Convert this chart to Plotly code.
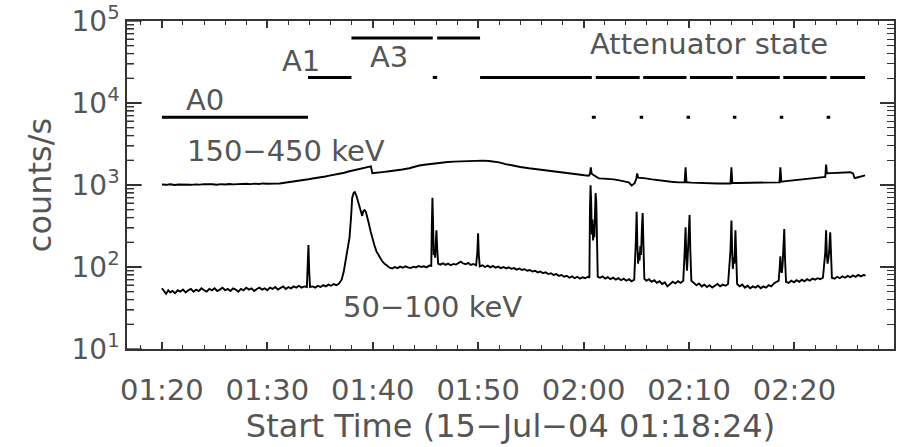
import pandas as pd
import plotly.graph_objects as go

T0 = pd.Timestamp("2004-07-15 01:20:00")

# 50-100 keV light curve: (minutes after 01:20 UT, counts/s)
low_pts = [
    (0.00, 55), (0.20, 50), (0.40, 47), (0.60, 52), (0.80, 49), (1.00, 51), (1.25, 48), (1.50, 52),
    (1.75, 50), (2.00, 53), (2.25, 49), (2.50, 52), (2.75, 54), (3.00, 50), (3.25, 53), (3.50, 51),
    (3.75, 55), (4.00, 52), (4.25, 50), (4.50, 54), (4.75, 52), (5.00, 55), (5.25, 51), (5.50, 53),
    (5.75, 56), (6.00, 52), (6.25, 54), (6.50, 51), (6.75, 55), (7.00, 53), (7.25, 50), (7.50, 54),
    (7.75, 52), (8.00, 56), (8.25, 53), (8.50, 55), (8.75, 51), (9.00, 54), (9.25, 56), (9.50, 53),
    (9.75, 55), (10.00, 52), (10.25, 56), (10.50, 54), (10.75, 57), (11.00, 53), (11.25, 56),
    (11.50, 58), (11.75, 54), (12.00, 57), (12.25, 55), (12.50, 58), (12.75, 56), (13.00, 59),
    (13.25, 56), (13.50, 58), (13.75, 57),
    (13.85, 120), (13.90, 185), (13.97, 90), (14.05, 57),
    (14.30, 58), (14.55, 56), (14.80, 59), (15.05, 57), (15.30, 60), (15.55, 58), (15.80, 61),
    (16.05, 59), (16.30, 62), (16.55, 60), (16.80, 63),
    (17.05, 70), (17.25, 88), (17.45, 125), (17.65, 180), (17.80, 230), (17.95, 420), (18.05, 700),
    (18.20, 805), (18.30, 820), (18.45, 740), (18.60, 620), (18.75, 530), (18.90, 440), (19.00, 420),
    (19.10, 480), (19.22, 495), (19.35, 470), (19.50, 405), (19.65, 330), (19.80, 270), (19.95, 225),
    (20.15, 185), (20.35, 155), (20.60, 135), (20.85, 120), (21.10, 110), (21.35, 104), (21.60, 98),
    (21.85, 96), (22.10, 100), (22.35, 97), (22.60, 101), (22.85, 98), (23.10, 102), (23.35, 99),
    (23.60, 97), (23.85, 101), (24.10, 99), (24.35, 103), (24.60, 100), (24.85, 102), (25.10, 99),
    (25.35, 104), (25.55, 103),
    (25.60, 300), (25.66, 700), (25.72, 350), (25.78, 140), (25.85, 160), (25.92, 130), (25.98, 200),
    (26.04, 280), (26.10, 180), (26.20, 110),
    (26.40, 107), (26.65, 111), (26.90, 106), (27.15, 110), (27.40, 105), (27.65, 109), (27.90, 107),
    (28.15, 112), (28.35, 116), (28.55, 111), (28.80, 108), (29.05, 112), (29.30, 106), (29.55, 109),
    (29.80, 105),
    (29.92, 150), (29.99, 258), (30.06, 140), (30.15, 102),
    (30.40, 105), (30.65, 100), (30.90, 104), (31.15, 99), (31.40, 103), (31.65, 98), (31.90, 101),
    (32.15, 97), (32.40, 100), (32.65, 96), (32.90, 99), (33.15, 95), (33.40, 97), (33.65, 93),
    (33.90, 96), (34.15, 92), (34.40, 94), (34.65, 90), (34.90, 92), (35.15, 88), (35.40, 90),
    (35.65, 86), (35.90, 88), (36.15, 84), (36.40, 86), (36.65, 82), (36.90, 84), (37.15, 80),
    (37.40, 82), (37.65, 78), (37.90, 80), (38.15, 76), (38.40, 78), (38.65, 74), (38.90, 77),
    (39.15, 73), (39.40, 76), (39.65, 72), (39.90, 75), (40.15, 73), (40.40, 76), (40.55, 74),
    (40.60, 500), (40.66, 990), (40.72, 600), (40.78, 250), (40.84, 380), (40.90, 210), (40.96, 330),
    (41.02, 230), (41.08, 450), (41.14, 800), (41.20, 620), (41.27, 90), (41.34, 76),
    (41.55, 74), (41.80, 77), (42.05, 72), (42.30, 75), (42.55, 71), (42.80, 74), (43.05, 70),
    (43.30, 73), (43.55, 69), (43.80, 72), (44.05, 68), (44.30, 71), (44.55, 67), (44.80, 70),
    (44.95, 200), (45.03, 470), (45.10, 180), (45.17, 110), (45.24, 150), (45.31, 120), (45.38, 180),
    (45.45, 140), (45.53, 300), (45.60, 455), (45.67, 200), (45.76, 72),
    (45.95, 68), (46.20, 71), (46.45, 66), (46.70, 69), (46.95, 64), (47.20, 67), (47.45, 62),
    (47.70, 65), (47.95, 58), (48.20, 62), (48.45, 66), (48.70, 63), (48.95, 67), (49.20, 64),
    (49.45, 68),
    (49.58, 150), (49.67, 305), (49.74, 130), (49.81, 90), (49.88, 140), (49.95, 250), (50.05, 430),
    (50.12, 160), (50.22, 68),
    (50.45, 64), (50.70, 60), (50.95, 63), (51.20, 58), (51.45, 61), (51.70, 57), (51.95, 60),
    (52.20, 56), (52.45, 59), (52.70, 62), (52.95, 58), (53.20, 61), (53.45, 59), (53.70, 62),
    (53.93, 160), (54.02, 370), (54.09, 150), (54.16, 95), (54.23, 130), (54.30, 110), (54.40, 280),
    (54.47, 120), (54.56, 62),
    (54.80, 58), (55.05, 61), (55.30, 56), (55.55, 59), (55.80, 55), (56.05, 58), (56.30, 56),
    (56.55, 59), (56.80, 55), (57.05, 58), (57.30, 56), (57.55, 60), (57.80, 58), (58.05, 63),
    (58.30, 66), (58.50, 68),
    (58.60, 100), (58.66, 135), (58.73, 90), (58.80, 85), (58.88, 110), (58.96, 180), (59.03, 290),
    (59.10, 130), (59.20, 66),
    (59.45, 64), (59.70, 68), (59.95, 65), (60.20, 69), (60.45, 66), (60.70, 70), (60.95, 67),
    (61.20, 71), (61.45, 68), (61.70, 72), (61.95, 70), (62.20, 73), (62.45, 71), (62.70, 74),
    (62.92, 150), (63.00, 280), (63.07, 140), (63.14, 110), (63.21, 125), (63.28, 150), (63.39, 265),
    (63.46, 120), (63.55, 74),
    (63.80, 72), (64.05, 76), (64.30, 73), (64.55, 77), (64.80, 74), (65.05, 78), (65.30, 75),
    (65.55, 79), (65.80, 76), (66.05, 80), (66.30, 77), (66.55, 80), (66.75, 79),
]

# 150-450 keV light curve: (minutes after 01:20 UT, counts/s)
high_pts = [
    (0.00, 1016), (0.40, 1005), (0.80, 1020), (1.20, 1000), (1.60, 1015), (2.00, 1008), (2.40, 1022),
    (2.80, 1005), (3.20, 1018), (3.60, 1010), (4.00, 1025), (4.40, 1012), (4.80, 1020), (5.20, 1008),
    (5.60, 1024), (6.00, 1015), (6.40, 1028), (6.80, 1018), (7.20, 1030), (7.60, 1020), (8.00, 1035),
    (8.40, 1025), (8.80, 1040), (9.20, 1030), (9.60, 1045), (10.00, 1036), (10.40, 1048),
    (10.80, 1040), (11.16, 1045), (11.60, 1062), (12.11, 1080), (12.60, 1098), (13.06, 1120),
    (13.50, 1140), (13.90, 1175), (14.29, 1200), (14.70, 1215), (15.14, 1240), (15.50, 1270),
    (15.89, 1300), (16.40, 1330), (16.84, 1370), (17.30, 1410), (17.70, 1460), (18.07, 1500),
    (18.50, 1540), (18.92, 1580), (19.20, 1610), (19.49, 1640), (19.70, 1670), (19.82, 1690),
    (19.96, 1390), (20.30, 1400), (20.63, 1420), (21.10, 1445), (21.57, 1470), (22.23, 1500),
    (22.80, 1545), (23.46, 1600), (23.90, 1660), (24.41, 1730), (24.90, 1765), (25.35, 1800),
    (25.90, 1840), (26.58, 1885), (27.10, 1905), (27.72, 1930), (28.20, 1945), (28.67, 1960),
    (29.20, 1975), (29.80, 1990), (30.40, 1985), (31.03, 1960), (31.50, 1925), (31.98, 1885),
    (32.60, 1800), (33.21, 1730), (34.00, 1660), (34.82, 1600), (35.60, 1550), (36.42, 1503),
    (37.30, 1450), (38.13, 1400), (38.80, 1365), (39.55, 1335), (40.10, 1315), (40.49, 1300),
    (40.60, 1360), (40.68, 1640), (40.76, 1380), (40.90, 1330), (41.10, 1290), (41.44, 1203),
    (41.90, 1195), (42.40, 1185), (42.86, 1170), (43.40, 1140), (43.90, 1105), (44.28, 1076),
    (44.56, 988), (44.84, 1050), (45.00, 1200), (45.08, 1383), (45.18, 1230), (45.32, 1220),
    (45.88, 1203), (46.50, 1170), (47.11, 1140), (47.70, 1110), (48.30, 1095), (49.00, 1076),
    (49.58, 1076), (49.67, 1640), (49.76, 1080), (50.20, 1070), (50.70, 1060), (51.20, 1055),
    (51.70, 1050), (52.20, 1047), (52.70, 1043), (53.30, 1045), (53.93, 1045), (54.02, 1640),
    (54.10, 1062), (54.60, 1058), (55.10, 1060), (55.60, 1062), (56.10, 1064), (56.60, 1066),
    (57.10, 1068), (57.60, 1070), (58.10, 1074), (58.58, 1078), (58.66, 1640), (58.75, 1100),
    (59.20, 1115), (59.70, 1135), (60.20, 1155), (60.70, 1175), (61.20, 1190), (61.70, 1205),
    (62.20, 1225), (62.60, 1240), (62.92, 1255), (63.00, 1780), (63.08, 1390), (63.50, 1395),
    (64.00, 1405), (64.50, 1415), (65.00, 1425), (65.30, 1430), (65.56, 1380), (65.70, 1210),
    (65.95, 1235), (66.30, 1270), (66.70, 1310),
]

# Attenuator state changes: start minute of each state (last entry closes the final one)
att_change_t = [0.00, 13.86, 17.98, 25.69, 26.11, 30.18, 40.78, 41.15, 45.32, 45.65,
                49.76, 50.09, 54.16, 54.49, 58.61, 58.94, 63.05, 63.39, 66.70]
att_state = ["A0", "A1", "A3", "A1", "A3", "A1", "A0", "A1", "A0", "A1",
             "A0", "A1", "A0", "A1", "A0", "A1", "A0", "A1"]
att_level = {"A0": 6.7e3, "A1": 2.05e4, "A3": 6.2e4}

x_tick_min = [0, 10, 20, 30, 40, 50, 60]
x_tick_text = ["01:20", "01:30", "01:40", "01:50", "02:00", "02:10", "02:20"]
y_tick_vals = [1e1, 1e2, 1e3, 1e4, 1e5]
y_tick_text = [f"10<sup>{e}</sup>" for e in range(1, 6)]
y_minor_vals = [k * 10 ** e for e in range(1, 5) for k in range(2, 10)]


def at(minutes):
    return T0 + pd.Timedelta(minutes=minutes)


AX = "#333333"
TXT = "#555555"
FONT = "DejaVu Sans"

fig = go.Figure()

for pts in (high_pts, low_pts):
    fig.add_trace(go.Scatter(
        x=[at(t) for t, _ in pts], y=[c for _, c in pts], mode="lines",
        line=dict(color="black", width=1.9), hoverinfo="skip"))

# attenuator state bars: one horizontal segment per state interval
ax_, ay_ = [], []
for i, s in enumerate(att_state):
    ax_ += [at(att_change_t[i]), at(att_change_t[i + 1]), None]
    ay_ += [att_level[s], att_level[s], None]
fig.add_trace(go.Scatter(x=ax_, y=ay_, mode="lines", connectgaps=False,
                         line=dict(color="black", width=3), hoverinfo="skip"))

labels = [
    ("A0", 0.1014, 0.760),
    ("A1", 0.2263, 0.878),
    ("A3", 0.342, 0.890),
    ("Attenuator state", 0.7594, 0.930),
    ("150−450 keV", 0.2068, 0.605),
    ("50−100 keV", 0.3979, 0.128),
]
for text, xp, yp in labels:
    fig.add_annotation(text=text, x=xp, y=yp, xref="paper", yref="paper",
                       xanchor="center", yanchor="middle", showarrow=False,
                       font=dict(family=FONT, size=29, color=TXT))

# left-edge inside tick marks of the log axis (major decades and minor 2..9 steps)
for vals, frac in ((y_tick_vals, 15 / 769), (y_minor_vals, 7 / 769)):
    for v in vals:
        fig.add_shape(type="line", xref="paper", yref="y", x0=0, x1=frac, y0=v, y1=v,
                      line=dict(color=AX, width=1.4), layer="above")

fig.update_layout(
    width=897, height=447,
    margin=dict(l=127, r=1, t=20, b=98),
    paper_bgcolor="white", plot_bgcolor="white",
    showlegend=False,
    font=dict(family=FONT, size=28, color=TXT),
)

fig.update_xaxes(
    type="date", range=[at(-3.31), at(69.44)],
    tickmode="array", tickvals=[at(m) for m in x_tick_min], ticktext=x_tick_text,
    ticks="inside", ticklen=7, tickwidth=1.6, tickcolor=AX,
    minor=dict(tickmode="linear", dtick=120000, tick0=at(0), ticks="inside", ticklen=4,
               tickwidth=1.4, tickcolor=AX),
    showline=True, linecolor=AX, linewidth=1.5, mirror="allticks",
    showgrid=False, zeroline=False, ticklabelstandoff=14,
    tickfont=dict(family=FONT, size=29, color=TXT),
    title=dict(text="Start Time (15−Jul−04 01:18:24)",
               font=dict(family=FONT, size=32, color=TXT), standoff=8),
)

fig.update_yaxes(
    type="log", range=[1, 5],
    tickmode="array", tickvals=y_tick_vals, ticktext=y_tick_text,
    ticks="inside", ticklen=14, tickwidth=1.6, tickcolor=AX,
    minor=dict(tickmode="array", tickvals=y_minor_vals,
               ticks="inside", ticklen=7, tickwidth=1.4, tickcolor=AX),
    showline=True, linecolor=AX, linewidth=1.5, mirror="allticks",
    showgrid=False, zeroline=False,
    tickfont=dict(family=FONT, size=28, color=TXT),
    title=dict(text="counts/s", font=dict(family=FONT, size=32, color=TXT), standoff=10),
)

fig.write_html("out.html")
